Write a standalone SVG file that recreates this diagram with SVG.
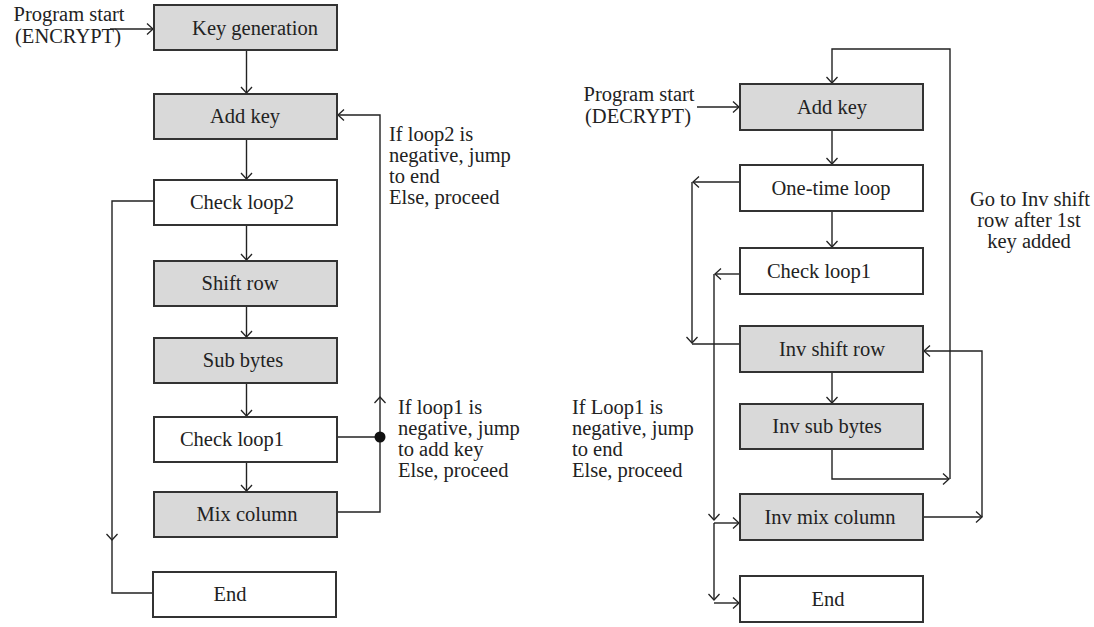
<svg xmlns="http://www.w3.org/2000/svg" width="1094" height="627" viewBox="0 0 1094 627">
<defs>
<marker id="arr" viewBox="-8 -7 10 14" refX="0" refY="0" markerWidth="10" markerHeight="14" markerUnits="userSpaceOnUse" orient="auto">
<path d="M-6,-5.5 L0,0 L-6,5.5" fill="none" stroke="#222" stroke-width="1.3"/>
</marker>
<style>
.box{stroke:#333;stroke-width:2}
.g{fill:#d9d9d9}
.w{fill:#fff}
.t{font-family:"Liberation Serif","Times New Roman",serif;font-size:20.5px;fill:#222}
.c{text-anchor:middle}
.ln{fill:none;stroke:#222;stroke-width:1.4}
.a{marker-end:url(#arr)}
</style>
</defs>
<rect width="1094" height="627" fill="#fff"/>

<g id="connectors">
<!-- left chart -->
<path class="ln a" d="M110,29 H153"/>
<path class="ln a" d="M246.5,50 V93"/>
<path class="ln a" d="M246.5,139 V179"/>
<path class="ln a" d="M246.5,225 V260"/>
<path class="ln a" d="M246.5,306 V337"/>
<path class="ln a" d="M246.5,383 V416"/>
<path class="ln a" d="M246.5,462 V491"/>
<path class="ln a" d="M154,201 H112 V540"/>
<path class="ln" d="M112,540 V593 H153"/>
<path class="ln a" d="M337,512 H380 V397"/>
<path class="ln a" d="M380,397 V115 H338"/>
<path class="ln" d="M338,437 H380"/>
<circle cx="380" cy="437" r="5.5" fill="#111"/>
<!-- right chart -->
<path class="ln a" d="M697,107 H739"/>
<path class="ln a" d="M832,130 V164"/>
<path class="ln a" d="M832,211 V247"/>
<path class="ln a" d="M832,372 V403"/>
<path class="ln a" d="M832,449 V479 H949"/>
<path class="ln a" d="M950,479 V49 H832 V83"/>
<path class="ln a" d="M923,517 H982"/>
<path class="ln a" d="M982,517 V351 H924"/>
<path class="ln a" d="M740,182 H693"/>
<path class="ln a" d="M692,182 V343"/>
<path class="ln" d="M692,344 H740"/>
<path class="ln a" d="M740,274 H715"/>
<path class="ln a" d="M714,274 V520"/>
<path class="ln a" d="M714,523 H739"/>
<path class="ln a" d="M714,523 V600"/>
<path class="ln a" d="M714,603 H739"/>
</g>

<!-- left chart nodes -->
<g id="l-keygen"><rect class="box g" x="154" y="5" width="183" height="45"/><text class="t c" x="255" y="35">Key generation</text></g>
<g id="l-addkey"><rect class="box g" x="154" y="94" width="183" height="45"/><text class="t c" x="245" y="123">Add key</text></g>
<g id="l-checkloop2"><rect class="box w" x="154" y="180" width="183" height="45"/><text class="t c" x="242" y="209">Check loop2</text></g>
<g id="l-shiftrow"><rect class="box g" x="154" y="261" width="183" height="45"/><text class="t c" x="240" y="290">Shift row</text></g>
<g id="l-subbytes"><rect class="box g" x="154" y="338" width="183" height="45"/><text class="t c" x="243" y="367">Sub bytes</text></g>
<g id="l-checkloop1"><rect class="box w" x="154" y="417" width="183" height="45"/><text class="t c" x="232" y="446">Check loop1</text></g>
<g id="l-mixcolumn"><rect class="box g" x="154" y="492" width="183" height="45"/><text class="t c" x="247" y="521">Mix column</text></g>
<g id="l-end"><rect class="box w" x="153" y="572" width="183" height="45"/><text class="t c" x="230" y="601">End</text></g>

<g id="l-start-label"><text class="t c" x="69" y="21">Program start</text><text class="t c" x="68" y="43">(ENCRYPT)</text></g>
<g id="l-note2"><text class="t" x="389" y="141">If loop2 is</text><text class="t" x="389" y="162">negative, jump</text><text class="t" x="389" y="183">to end</text><text class="t" x="389" y="204">Else, proceed</text></g>
<g id="l-note1"><text class="t" x="398" y="414">If loop1 is</text><text class="t" x="398" y="435">negative, jump</text><text class="t" x="398" y="456">to add key</text><text class="t" x="398" y="477">Else, proceed</text></g>

<!-- right chart nodes -->
<g id="r-addkey"><rect class="box g" x="740" y="84" width="183" height="46"/><text class="t c" x="832" y="114">Add key</text></g>
<g id="r-onetime"><rect class="box w" x="740" y="165" width="183" height="46"/><text class="t c" x="831" y="195">One-time loop</text></g>
<g id="r-checkloop1"><rect class="box w" x="740" y="248" width="183" height="46"/><text class="t c" x="819" y="278">Check loop1</text></g>
<g id="r-invshift"><rect class="box g" x="740" y="326" width="183" height="46"/><text class="t c" x="832" y="356">Inv shift row</text></g>
<g id="r-invsub"><rect class="box g" x="740" y="404" width="183" height="45"/><text class="t c" x="827" y="433">Inv sub bytes</text></g>
<g id="r-invmix"><rect class="box g" x="740" y="494" width="183" height="46"/><text class="t c" x="830" y="524">Inv mix column</text></g>
<g id="r-end"><rect class="box w" x="740" y="576" width="183" height="46"/><text class="t c" x="828" y="606">End</text></g>

<g id="r-start-label"><text class="t c" x="639" y="101">Program start</text><text class="t c" x="638" y="123">(DECRYPT)</text></g>
<g id="r-note1"><text class="t" x="572" y="414">If Loop1 is</text><text class="t" x="572" y="435">negative, jump</text><text class="t" x="572" y="456">to end</text><text class="t" x="572" y="477">Else, proceed</text></g>
<g id="r-note2"><text class="t c" x="1030" y="206">Go to Inv shift</text><text class="t c" x="1029" y="227">row after 1st</text><text class="t c" x="1029" y="248">key added</text></g>
</svg>
